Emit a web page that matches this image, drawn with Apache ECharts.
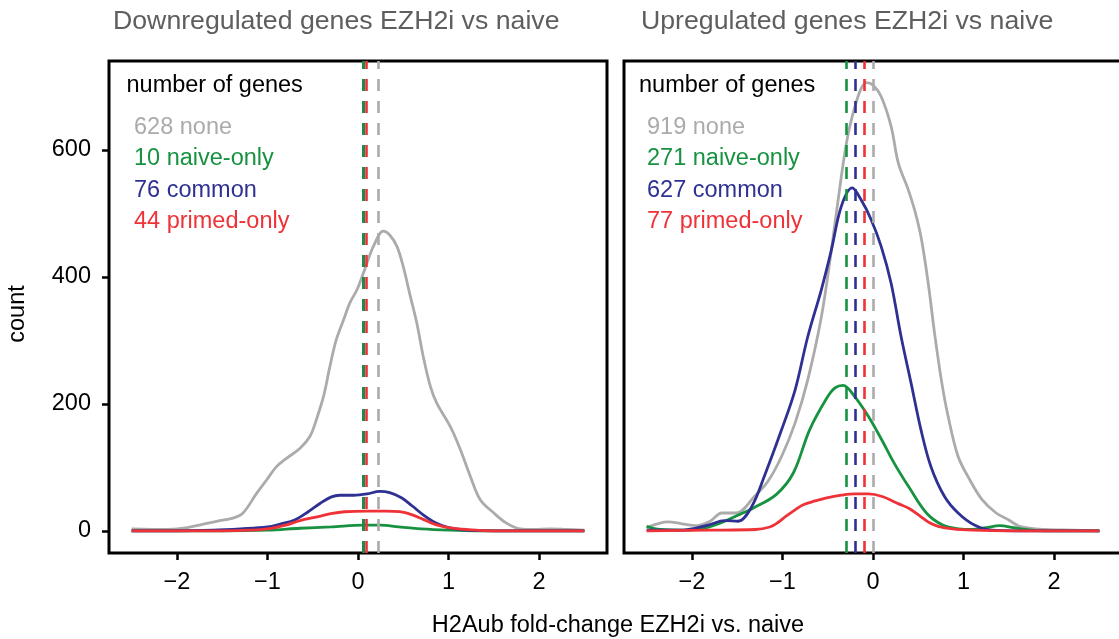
<!DOCTYPE html>
<html>
<head>
<meta charset="utf-8">
<script src="https://cdn.jsdelivr.net/npm/echarts@6/dist/echarts.min.js"></script>
<style>html,body{margin:0;padding:0;background:#fff}#c{width:1119px;height:639px}</style>
</head>
<body>
<div id="c"></div>
<script>
// ---- data ----
const panelTitles = ['Downregulated genes EZH2i vs naive', 'Upregulated genes EZH2i vs naive'];
const groupNames = ['none', 'naive-only', 'common', 'primed-only'];
const downCounts = [628, 10, 76, 44];
const upCounts = [919, 271, 627, 77];
const xTicks = [-2, -1, 0, 1, 2];
const yTicks = [0, 200, 400, 600];

// density curves [fold-change, count]
const downNone = [[-2.5,3],[-2.11,2],[-1.93,4],[-1.75,9],[-1.56,15],[-1.38,20],[-1.27,28],[-1.12,59],[-1.01,80],[-0.9,101],[-0.79,114],[-0.64,130],[-0.53,149],[-0.46,175],[-0.38,212],[-0.31,259],[-0.24,301],[-0.16,332],[-0.09,359],[-0.01,380],[0.06,406],[0.1,422],[0.17,448],[0.28,472],[0.35,466],[0.43,448],[0.5,416],[0.57,374],[0.65,327],[0.72,275],[0.8,227],[0.87,201],[1.02,164],[1.13,128],[1.24,86],[1.35,49],[1.5,28],[1.64,12],[1.79,3],[1.94,2],[2.12,3],[2.31,2],[2.5,1]];
const downNaive = [[-2.5,0],[-1.5,0],[-1.0,1],[-0.64,4],[-0.3,6],[0.06,9],[0.25,9],[0.45,6],[0.7,3],[1.0,1],[1.3,0],[2.5,0]];
const downCommon = [[-2.5,0],[-2.0,0],[-1.6,1],[-1.3,3],[-1.0,6],[-0.85,11],[-0.7,17],[-0.55,30],[-0.42,43],[-0.3,53],[-0.2,56],[-0.05,56],[0.1,58],[0.24,62],[0.35,60],[0.48,52],[0.6,39],[0.72,25],[0.85,13],[1.0,5],[1.2,1],[1.5,0],[2.5,0]];
const downPrimed = [[-2.5,0],[-1.5,0],[-1.2,1],[-1.0,3],[-0.8,9],[-0.64,16],[-0.45,22],[-0.3,27],[-0.15,30],[0.1,31],[0.3,31],[0.46,30],[0.6,25],[0.72,18],[0.85,10],[1.0,5],[1.2,2],[1.5,0],[2.5,0]];

const upNone = [[-2.5,5],[-2.26,14],[-2.11,11],[-1.95,8],[-1.8,15],[-1.67,28],[-1.51,28],[-1.31,54],[-1.16,78],[-1.01,117],[-0.86,170],[-0.72,238],[-0.57,337],[-0.46,442],[-0.35,558],[-0.28,621],[-0.2,668],[-0.13,697],[-0.07,706],[0,702],[0.09,684],[0.2,637],[0.28,579],[0.39,537],[0.46,505],[0.53,463],[0.61,390],[0.68,311],[0.76,233],[0.83,180],[0.94,117],[1.07,80],[1.2,50],[1.36,28],[1.5,17],[1.62,7],[1.9,2],[2.2,1],[2.5,0]];
const upNaive = [[-2.5,7],[-2.35,2],[-2.1,1],[-1.9,3],[-1.69,12],[-1.5,24],[-1.32,36],[-1.07,57],[-0.88,91],[-0.7,159],[-0.51,209],[-0.42,225],[-0.33,229],[-0.2,211],[-0.05,180],[0.09,145],[0.24,105],[0.4,68],[0.59,28],[0.77,9],[0.95,3],[1.1,2],[1.25,5],[1.4,8],[1.55,5],[1.69,2],[1.9,0],[2.5,0]];
const upCommon = [[-2.5,1],[-2.11,1],[-1.82,9],[-1.64,16],[-1.49,15],[-1.34,38],[-1.2,86],[-1.01,159],[-0.86,222],[-0.72,306],[-0.57,380],[-0.46,442],[-0.35,511],[-0.23,540],[-0.13,521],[-0.02,490],[0.09,448],[0.2,390],[0.31,306],[0.42,233],[0.53,159],[0.64,101],[0.79,54],[0.94,28],[1.12,9],[1.31,1],[1.6,0],[2.5,0]];
const upPrimed = [[-2.5,0],[-1.8,1],[-1.3,2],[-1.14,6],[-1.05,13],[-0.96,23],[-0.86,33],[-0.77,41],[-0.64,47],[-0.51,52],[-0.35,56],[-0.2,58],[-0.05,58],[0.1,54],[0.29,42],[0.4,35],[0.52,23],[0.62,13],[0.72,7],[0.88,3],[1.1,1],[1.5,0],[2.5,0]];

// medians (dashed lines)
const downMedians = [0.218, 0.061, 0.061, 0.088];
const upMedians = [0.0, -0.30, -0.195, -0.105];

// ---- styling ----
const colors = ['#ABABAB', '#179240', '#2E3192', '#EE3237'];
const FONT = '"Liberation Sans", Arial, Helvetica, sans-serif';
const panels = [
  {curves: [downNone, downNaive, downCommon, downPrimed], counts: downCounts, medians: downMedians},
  {curves: [upNone, upNaive, upCommon, upPrimed], counts: upCounts, medians: upMedians}
];
const gridLefts = [109, 624];
const legendX = [[126.5, 134], [639, 647]];
const titleX = [113, 641];
const lineZ = [2, 3, 4, 5];
const markZ = [10, 12, 11, 13];

const grids = gridLefts.map(l => ({left: l, top: 61, width: 498, height: 492, show: true, borderColor: '#000', borderWidth: 3, backgroundColor: 'transparent', containLabel: false, outerBoundsMode: 'none'}));

const xAxes = gridLefts.map((l, i) => ({
  type: 'value', gridIndex: i, min: -2.75, max: 2.75, position: 'bottom',
  axisLine: {show: false, onZero: false}, splitLine: {show: false},
  axisTick: {show: true, length: 7, customValues: xTicks, lineStyle: {color: '#000', width: 2.5}},
  axisLabel: {show: true, customValues: xTicks, margin: 18, color: '#000', fontSize: 23.5, fontFamily: FONT,
    formatter: v => (v < 0 ? '\u2212' + Math.abs(v) : String(v))}
}));
const yAxes = gridLefts.map((l, i) => ({
  type: 'value', gridIndex: i, min: -35, max: 740, position: 'left',
  axisLine: {show: false, onZero: false}, splitLine: {show: false},
  axisTick: {show: i === 0, length: 7, customValues: yTicks, lineStyle: {color: '#000', width: 2.5}},
  axisLabel: {show: i === 0, customValues: yTicks, margin: 18, color: '#000', fontSize: 23.5, fontFamily: FONT}
}));

const series = [];
panels.forEach((p, pi) => {
  p.curves.forEach((d, gi) => {
    series.push({
      type: 'line', xAxisIndex: pi, yAxisIndex: pi, data: d, smooth: 0.35,
      showSymbol: false, symbol: 'none', z: lineZ[gi],
      lineStyle: {color: colors[gi], width: 2.8}, itemStyle: {color: colors[gi]},
      silent: true, clip: true,
      markLine: {
        silent: true, symbol: ['none', 'none'], label: {show: false}, animation: false,
        z: markZ[gi],
        lineStyle: {color: colors[gi], width: 2.6, type: [12, 10]},
        emphasis: {disabled: true},
        data: [{xAxis: p.medians[gi]}]
      }
    });
  });
});

const graphic = [];
panels.forEach((p, pi) => {
  graphic.push({type: 'text', x: titleX[pi], y: 22, silent: true,
    style: {text: panelTitles[pi], fill: '#5E5E5E', font: '26.7px ' + FONT, verticalAlign: 'middle', align: 'left'}});
  graphic.push({type: 'text', x: legendX[pi][0], y: 86, silent: true,
    style: {text: 'number of genes', fill: '#000', font: '23.5px ' + FONT, verticalAlign: 'middle', align: 'left'}});
  groupNames.forEach((g, gi) => {
    graphic.push({type: 'text', x: legendX[pi][1], y: 127.5 + gi * 31.3, silent: true,
      style: {text: p.counts[gi] + ' ' + g, fill: colors[gi], font: '23.5px ' + FONT, verticalAlign: 'middle', align: 'left'}});
  });
});
graphic.push({type: 'text', x: 17.5, y: 314, rotation: Math.PI / 2, silent: true,
  style: {text: 'count', fill: '#000', font: '23.5px ' + FONT, verticalAlign: 'middle', align: 'center'}});
graphic.push({type: 'text', x: 618, y: 626, silent: true,
  style: {text: 'H2Aub fold-change EZH2i vs. naive', fill: '#000', font: '23.5px ' + FONT, verticalAlign: 'middle', align: 'center'}});

const chart = echarts.init(document.getElementById('c'), null, {renderer: 'canvas'});
chart.setOption({
  animation: false,
  backgroundColor: '#fff',
  grid: grids,
  xAxis: xAxes,
  yAxis: yAxes,
  series: series,
  graphic: graphic
});
</script>
</body>
</html>
